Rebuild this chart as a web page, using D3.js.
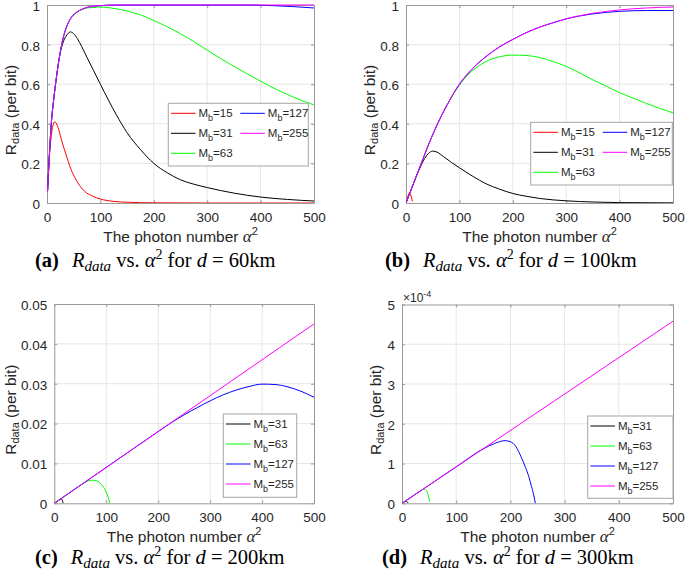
<!DOCTYPE html>
<html lang="en">
<head>
  <meta charset="UTF-8">
  <title>R_data vs photon number</title>
  <style>
    body { margin: 0; background: #fff; }
    svg { display: block; }
    text { white-space: pre; }
  </style>
</head>
<body>
<svg width="685" height="571"></svg>
<script src="https://d3js.org/d3.v7.min.js"></script>
<script>
// ---- data ----
const xTicks = [0, 100, 200, 300, 400, 500];
const yTicksAB = [0, 0.2, 0.4, 0.6, 0.8, 1];
const yTicksC = [0, 0.01, 0.02, 0.03, 0.04, 0.05];
const yTicksD = [0, 1e-4, 2e-4, 3e-4, 4e-4, 5e-4];

// (a) d = 60km
const a15 = [[1,0.06],[3,0.16],[5,0.25],[8,0.34],[11,0.39],[14,0.41],[17,0.405],[22,0.37],[28,0.31],[35,0.25],[45,0.17],[55,0.115],[70,0.06],[85,0.035],[100,0.02],[125,0.008],[150,0.004],[200,0.001],[300,0],[500,0]];
const a31 = [[1,0.06],[3,0.17],[5,0.27],[8,0.40],[12,0.51],[16,0.60],[20,0.68],[25,0.76],[30,0.81],[35,0.84],[40,0.858],[44,0.864],[50,0.855],[57,0.83],[65,0.79],[75,0.735],[87,0.67],[100,0.60],[115,0.52],[130,0.445],[150,0.355],[175,0.27],[200,0.20],[225,0.153],[250,0.117],[275,0.095],[300,0.078],[350,0.05],[400,0.03],[450,0.018],[500,0.01]];
const a63 = [[1,0.06],[3,0.17],[5,0.27],[8,0.40],[12,0.51],[16,0.60],[20,0.68],[25,0.765],[30,0.83],[36,0.885],[45,0.935],[53,0.958],[65,0.977],[78,0.986],[90,0.988],[100,0.99],[125,0.983],[150,0.97],[175,0.95],[200,0.922],[225,0.89],[250,0.855],[275,0.815],[300,0.772],[325,0.73],[350,0.69],[375,0.652],[400,0.615],[425,0.58],[450,0.548],[475,0.52],[500,0.495]];
const a127 = [[1,0.06],[3,0.17],[5,0.27],[8,0.40],[12,0.51],[16,0.60],[20,0.68],[25,0.765],[30,0.83],[36,0.885],[45,0.935],[53,0.958],[65,0.978],[78,0.99],[100,0.997],[130,1],[380,1],[420,0.997],[460,0.992],[500,0.985]];
const a255 = [[1,0.06],[3,0.17],[5,0.27],[8,0.40],[12,0.51],[16,0.60],[20,0.68],[25,0.765],[30,0.83],[36,0.885],[45,0.935],[53,0.958],[65,0.978],[78,0.99],[100,0.997],[130,1],[500,1]];

// (b) d = 100km
const b15 = [[0,0],[2,0.018],[4,0.038],[6,0.05],[8,0.046],[10,0.03],[12,0.008]];
const b31 = [[0,0],[5,0.035],[10,0.07],[15,0.105],[20,0.14],[25,0.17],[30,0.2],[35,0.225],[42,0.25],[50,0.262],[58,0.257],[70,0.235],[85,0.205],[100,0.178],[125,0.135],[150,0.097],[175,0.07],[200,0.048],[225,0.034],[250,0.023],[300,0.011],[350,0.005],[400,0.002],[500,0.0005]];
const b63 = [[0,0],[5,0.035],[10,0.07],[15,0.105],[20,0.14],[25,0.175],[30,0.21],[40,0.28],[50,0.345],[60,0.405],[70,0.46],[80,0.51],[90,0.555],[100,0.595],[115,0.645],[130,0.68],[150,0.715],[175,0.738],[200,0.747],[225,0.745],[250,0.735],[275,0.715],[300,0.69],[325,0.657],[350,0.622],[375,0.59],[400,0.557],[425,0.53],[450,0.503],[475,0.478],[500,0.455]];
const b127 = [[0,0],[5,0.035],[10,0.07],[15,0.105],[20,0.14],[25,0.175],[30,0.21],[40,0.28],[50,0.345],[60,0.405],[70,0.46],[80,0.51],[90,0.558],[100,0.6],[125,0.68],[150,0.74],[175,0.788],[200,0.826],[225,0.86],[250,0.888],[275,0.91],[300,0.93],[350,0.955],[400,0.968],[450,0.972],[500,0.972]];
const b255 = [[0,0],[5,0.035],[10,0.07],[15,0.105],[20,0.14],[25,0.175],[30,0.21],[40,0.28],[50,0.345],[60,0.405],[70,0.46],[80,0.51],[90,0.558],[100,0.6],[125,0.68],[150,0.74],[175,0.788],[200,0.826],[225,0.86],[250,0.888],[275,0.91],[300,0.93],[350,0.958],[400,0.975],[450,0.985],[500,0.99]];

// (c) d = 200km
const c31 = [[0,0],[8,0.0007],[13,0.0011],[15,0.0009],[17,0]];
const c63 = [[0,0],[20,0.0018],[40,0.0036],[55,0.0049],[65,0.0056],[73,0.0058],[80,0.0057],[88,0.0051],[95,0.004],[100,0.0028],[104,0.0014],[107,0]];
const c127 = [[0,0],[100,0.009],[200,0.018],[225,0.0202],[250,0.0222],[275,0.024],[300,0.0257],[325,0.0272],[350,0.0284],[375,0.0293],[400,0.0299],[425,0.0298],[450,0.0292],[475,0.0281],[500,0.0266]];
const c255 = [[0,0],[100,0.009],[200,0.018],[300,0.027],[400,0.036],[500,0.045]];

// (d) d = 300km
const d31 = [[0,0],[5,0.04e-4],[8,0.05e-4],[10,0.03e-4],[11,0]];
const d63 = [[0,0],[20,0.183e-4],[36,0.33e-4],[40,0.36e-4],[43,0.355e-4],[46,0.3e-4],[48,0.22e-4],[50,0.1e-4],[51,0.04e-4]];
const d127 = [[0,0],[100,0.916e-4],[150,1.37e-4],[170,1.5e-4],[190,1.575e-4],[200,1.55e-4],[210,1.43e-4],[220,1.16e-4],[228,0.9e-4],[234,0.67e-4],[239,0.42e-4],[243,0.21e-4],[246,0]];
const d255 = [[0,0],[500,4.58e-4]];

const colors = {15: "#ff0000", 31: "#000000", 63: "#00ff00", 127: "#0000ff", 255: "#ff00ff"};

const panels = [
  {id: "a", km: 60, box: [47, 314, 5, 203], yMax: 1, yTicks: yTicksAB, fmt: d => d3.format("~g")(d),
   series: [[15, a15], [31, a31], [63, a63], [127, a127], [255, a255]],
   legend: {x: 168.3, y: 103.3, w: 140, h: 62.7, cols: [[15, 31, 63], [127, 255]]},
   ylabX: 15.5, capX: 35, capY: 267},
  {id: "b", km: 100, box: [406, 673, 5, 203], yMax: 1, yTicks: yTicksAB, fmt: d => d3.format("~g")(d),
   series: [[15, b15], [31, b31], [63, b63], [127, b127], [255, b255]],
   legend: {x: 530.7, y: 122.3, w: 141.6, h: 62.7, cols: [[15, 31, 63], [127, 255]]},
   ylabX: 374.5, capX: 385, capY: 267},
  {id: "c", km: 200, box: [54.3, 314, 304, 503.3], yMax: 0.05, yTicks: yTicksC, fmt: d => d3.format("~g")(d),
   series: [[31, c31], [63, c63], [127, c127], [255, c255]],
   legend: {x: 223.3, y: 414, w: 73.4, h: 83.3, cols: [[31, 63, 127, 255]]},
   ylabX: 15.5, capX: 35, capY: 564},
  {id: "d", km: 300, box: [402, 673, 304.5, 503.3], yMax: 5e-4, yTicks: yTicksD, fmt: d => d3.format("~g")(Math.round(d * 1e4)),
   series: [[31, d31], [63, d63], [127, d127], [255, d255]],
   legend: {x: 587.7, y: 416, w: 85.3, h: 82.3, cols: [[31, 63, 127, 255]]},
   ylabX: 380.5, capX: 382, capY: 564, exponent: true}
];

const svg = d3.select("svg");
const sans = "'Liberation Sans', Arial, sans-serif";
const serif = "'Liberation Serif', 'Times New Roman', serif";
const tickColor = "#262626";

panels.forEach(p => {
  const [x0, x1, y0, y1] = p.box;
  const x = d3.scaleLinear().domain([0, 500]).range([x0, x1]);
  const y = d3.scaleLinear().domain([0, p.yMax]).range([y1, y0]);
  const g = svg.append("g");

  // grid
  g.append("g").selectAll("line").data(xTicks.slice(1, -1)).join("line")
    .attr("x1", d => x(d)).attr("x2", d => x(d)).attr("y1", y0).attr("y2", y1)
    .attr("stroke", "#e6e6e6").attr("stroke-width", 1);
  g.append("g").selectAll("line").data(p.yTicks.slice(1, -1)).join("line")
    .attr("y1", d => y(d)).attr("y2", d => y(d)).attr("x1", x0).attr("x2", x1)
    .attr("stroke", "#e6e6e6").attr("stroke-width", 1);

  // axes (box with inward ticks)
  const axB = g.append("g").attr("transform", `translate(0,${y1})`)
    .call(d3.axisBottom(x).tickValues(xTicks).tickSizeInner(-3).tickSizeOuter(0).tickPadding(8));
  const axT = g.append("g").attr("transform", `translate(0,${y0})`)
    .call(d3.axisTop(x).tickValues(xTicks).tickSizeInner(-3).tickSizeOuter(0).tickFormat(""));
  const axL = g.append("g").attr("transform", `translate(${x0},0)`)
    .call(d3.axisLeft(y).tickValues(p.yTicks).tickSizeInner(-3).tickSizeOuter(0).tickPadding(7).tickFormat(p.fmt));
  const axR = g.append("g").attr("transform", `translate(${x1},0)`)
    .call(d3.axisRight(y).tickValues(p.yTicks).tickSizeInner(-3).tickSizeOuter(0).tickFormat(""));
  [axB, axT, axL, axR].forEach(a => {
    a.select(".domain").attr("stroke", "#999").attr("stroke-width", 1);
    a.selectAll(".tick line").attr("stroke", "#999");
    a.selectAll("text").attr("font-family", sans).attr("font-size", 13.5).attr("fill", tickColor);
  });
  axB.selectAll("text").attr("dy", "0.82em");
  axL.selectAll("text").attr("dy", "0.4em");

  // curves, drawn over the box like the original
  const clipId = "clip-" + p.id;
  g.append("clipPath").attr("id", clipId).append("rect")
    .attr("x", x0).attr("y", y0 - 1).attr("width", x1 - x0).attr("height", y1 - y0 + 1);
  const line = d3.line().x(d => x(d[0])).y(d => y(d[1])).curve(d3.curveMonotoneX);
  g.append("g").attr("clip-path", `url(#${clipId})`)
    .selectAll("path").data(p.series).join("path")
    .attr("d", d => line(d[1]))
    .attr("fill", "none")
    .attr("stroke", d => colors[d[0]])
    .attr("stroke-width", 1);

  if (p.exponent) {
    const ex = g.append("text").attr("x", x0 + 1).attr("y", y0 - 3)
      .attr("font-family", sans).attr("font-size", 12).attr("fill", tickColor);
    ex.append("tspan").text("×10");
    ex.append("tspan").attr("font-size", 9).attr("dy", -5).text("-4");
  }

  // x label
  const xl = g.append("text").attr("x", (x0 + x1) / 2).attr("y", y1 + 39)
    .attr("text-anchor", "middle").attr("font-family", sans).attr("font-size", 15.5).attr("fill", tickColor);
  xl.append("tspan").text("The photon number ");
  xl.append("tspan").attr("font-style", "italic").attr("font-family", serif).attr("font-size", 17).text("α");
  xl.append("tspan").attr("font-size", 11).attr("dy", -7).text("2");

  // y label
  const yl = g.append("text")
    .attr("transform", `translate(${p.ylabX},${(y0 + y1) / 2 + 6}) rotate(-90)`)
    .attr("text-anchor", "middle").attr("font-family", sans).attr("font-size", 15.5).attr("fill", tickColor);
  yl.append("tspan").text("R");
  yl.append("tspan").attr("font-size", 11).attr("dy", 3.5).text("data");
  yl.append("tspan").attr("dy", -3.5).text(" (per bit)");

  // legend
  const L = p.legend;
  const lg = g.append("g");
  lg.append("rect").attr("x", L.x).attr("y", L.y).attr("width", L.w).attr("height", L.h)
    .attr("fill", "#fff").attr("stroke", "#a6a6a6").attr("stroke-width", 1);
  L.cols.forEach((col, ci) => {
    col.forEach((m, ri) => {
      const cx = L.x + 2.7 + ci * 69.3;
      const cy = L.y + 10 + ri * 20;
      lg.append("line").attr("x1", cx).attr("x2", cx + 24.5).attr("y1", cy).attr("y2", cy)
        .attr("stroke", colors[m]).attr("stroke-width", 1);
      const t = lg.append("text").attr("x", cx + 27.5).attr("y", cy + 4)
        .attr("font-family", sans).attr("font-size", 11.5).attr("fill", tickColor);
      t.append("tspan").text("M");
      t.append("tspan").attr("font-size", 9).attr("dy", 4).text("b");
      t.append("tspan").attr("dy", -4).text("=" + m);
    });
  });

  // caption
  const cap = g.append("text").attr("x", p.capX).attr("y", p.capY)
    .attr("font-family", serif).attr("font-size", 20.5).attr("fill", "#000");
  cap.append("tspan").attr("font-weight", "bold").text(`(${p.id})`);
  cap.append("tspan").attr("dx", 13).attr("font-style", "italic").text("R");
  cap.append("tspan").attr("font-style", "italic").attr("font-size", 15).attr("dy", 4).text("data");
  cap.append("tspan").attr("dy", -4).text(" vs. ");
  cap.append("tspan").attr("font-style", "italic").text("α");
  cap.append("tspan").attr("font-size", 14).attr("dy", -8).text("2");
  cap.append("tspan").attr("dy", 8).text(" for ");
  cap.append("tspan").attr("font-style", "italic").text("d");
  cap.append("tspan").text(` = ${p.km}km`);
});
</script>
</body>
</html>
